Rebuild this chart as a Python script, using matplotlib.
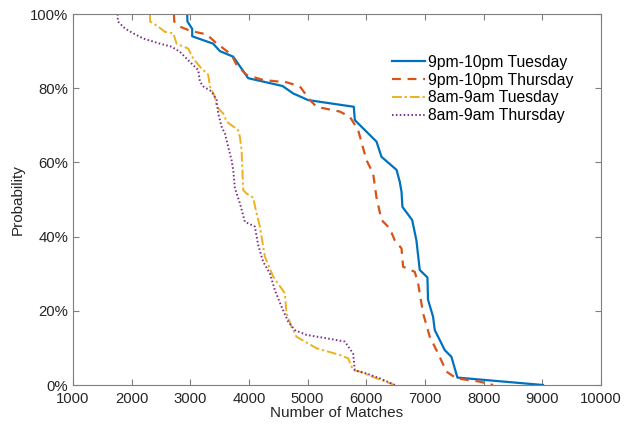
import matplotlib

matplotlib.use("Agg")

import matplotlib.pyplot as plt
from matplotlib.ticker import FuncFormatter

# matches (x) vs probability in percent (y)
tue_pm_x = [2947, 2950, 3032, 3032, 3390, 3504, 3731, 3987, 4571, 4753, 5009, 5787, 5804, 6174, 6259,
            6515, 6570, 6600, 6616, 6781, 6854, 6911, 7042, 7052, 7138, 7167, 7281, 7337, 7451, 7553, 9012]
tue_pm_y = [100, 98, 96, 94, 92, 90, 88.5, 82.7, 80.6, 78.6, 76.8, 75, 71.4, 65.6, 61.5,
            58, 54.8, 52.1, 48, 44.5, 39, 31, 29, 23, 18.4, 14.8, 11.2, 9.4, 7.6, 2, 0]

thu_pm_x = [2721, 2725, 2823, 2993, 3278, 3419, 3703, 3788, 3959, 4243, 4640, 4867, 5038, 5152, 5549,
            5719, 5861, 6003, 6116, 6174, 6259, 6400, 6485, 6600, 6627, 6826, 6883, 6968, 7082, 7224,
            7366, 7537, 7934, 8161]
thu_pm_y = [100, 98, 96.6, 95.5, 94.5, 92.5, 89, 86.3, 83.6, 82.2, 81.6, 80.5, 76.8, 75, 73.7,
            72.3, 68.7, 60.6, 57, 50.5, 44.5, 42.2, 39, 36.8, 31.9, 30.5, 27.4, 19.3, 13, 8.5,
            3.6, 1.8, 0.9, 0]

tue_am_x = [2312, 2315, 2453, 2567, 2709, 2766, 2964, 3049, 3163, 3305, 3334, 3419, 3448, 3561, 3618,
            3816, 3845, 3874, 3901, 3959, 4072, 4129, 4186, 4271, 4413, 4555, 4612, 4640, 4725, 4810,
            5009, 5152, 5549, 5690, 5775, 5889, 6174, 6485]
tue_am_y = [100, 98, 96.6, 95.2, 94.8, 92, 90.7, 88, 85.8, 83.6, 80.5, 77.7, 75, 73.2, 71,
            68.7, 66.9, 63.3, 52.6, 51.6, 50.5, 46.3, 42.7, 34.6, 29.2, 26, 24.7, 19.3, 15.7, 13,
            11.2, 9.9, 8.1, 7.2, 4, 3.6, 1.8, 0]

thu_am_x = [1761, 1765, 1886, 2027, 2198, 2482, 2681, 2823, 2993, 3135, 3163, 3220, 3363, 3448, 3476,
            3533, 3590, 3646, 3703, 3731, 3760, 3845, 3930, 4100, 4157, 4242, 4356, 4441, 4555, 4668,
            4782, 4981, 5322, 5634, 5775, 5804, 6003, 6230, 6485]
thu_am_y = [100, 98, 96.1, 94.8, 93.4, 92, 91.2, 89.8, 87.1, 84.9, 81.8, 80.5, 79.1, 76.8, 73.2,
            69.6, 67.8, 64.2, 60.6, 58, 53, 49, 44, 42.7, 37.7, 33.2, 30.1, 25.6, 21.1, 17.1,
            14.8, 13.5, 12.6, 11.7, 8.5, 4, 3.1, 1.8, 0]

labels = ["9pm-10pm Tuesday", "9pm-10pm Thursday", "8am-9am Tuesday", "8am-9am Thursday"]
x_ticks = list(range(1000, 10001, 1000))
y_ticks = [0, 20, 40, 60, 80, 100]

plt.rcParams["font.family"] = ["Liberation Sans", "DejaVu Sans"]

fig = plt.figure(figsize=(6.26, 4.25), dpi=100)
ax = fig.add_axes([0.1166, 0.0941, 0.8434, 0.8729])

ax.plot(tue_pm_x, tue_pm_y, color="#0072BD", linewidth=1.6, linestyle="-", label=labels[0])
ax.plot(thu_pm_x, thu_pm_y, color="#D95319", linewidth=1.6, linestyle=(0, (4, 3)), label=labels[1])
ax.plot(tue_am_x, tue_am_y, color="#EDB120", linewidth=1.4, linestyle=(0, (5, 1.5, 1.2, 1.5)), label=labels[2])
ax.plot(thu_am_x, thu_am_y, color="#7E2F8E", linewidth=1.4, linestyle=(0, (0.8, 1.2)), label=labels[3])

ax.set_xlim(1000, 10000)
ax.set_ylim(0, 100)
ax.set_xticks(x_ticks)
ax.set_yticks(y_ticks)
ax.yaxis.set_major_formatter(FuncFormatter(lambda v, _: f"{int(v)}%"))
ax.tick_params(direction="in", top=True, right=True, length=4, color="#7f7f7f",
               labelsize=10.7, labelcolor="#262626")
ax.tick_params(axis="x", pad=5)
for sp in ax.spines.values():
    sp.set_color("#7f7f7f")
    sp.set_linewidth(0.8)

ax.set_xlabel("Number of Matches", fontsize=11, color="#262626", labelpad=0)
ax.set_ylabel("Probability", fontsize=11, color="#262626", labelpad=4)

ax.legend(loc="upper left", bbox_to_anchor=(0.604, 0.89), frameon=False, fontsize=11.3,
          handlelength=2.1, handletextpad=0.2, labelspacing=0.18, borderaxespad=0, borderpad=0)

fig.savefig("out.png", dpi=100, facecolor="white")
